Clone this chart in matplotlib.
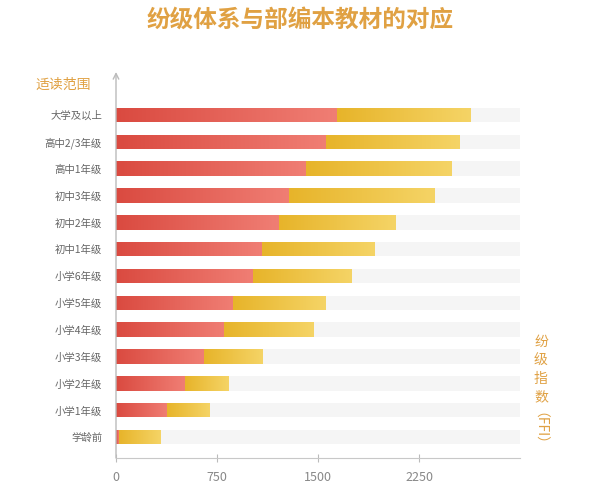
import matplotlib
matplotlib.use("Agg")
import matplotlib.pyplot as plt
import numpy as np
from matplotlib.colors import LinearSegmentedColormap

plt.rcParams['font.family'] = ['Noto Sans CJK SC', 'DejaVu Sans']

categories = ["学龄前", "小学1年级", "小学2年级", "小学3年级", "小学4年级", "小学5年级",
              "小学6年级", "初中1年级", "初中2年级", "初中3年级", "高中1年级", "高中2/3年级", "大学及以上"]
red_end = [22, 379, 512, 653, 802, 869, 1017, 1084, 1210, 1285, 1411, 1559, 1641]
yellow_end = [327, 691, 832, 1084, 1463, 1559, 1745, 1923, 2072, 2369, 2488, 2554, 2636]
full_scale = 3000
xticks = [0, 750, 1500, 2250]

title_color = "#e0a143"
red_cmap = LinearSegmentedColormap.from_list("r", ["#da4a40", "#f07e74"])
yel_cmap = LinearSegmentedColormap.from_list("y", ["#e7b42a", "#f5d466"])

fig = plt.figure(figsize=(6.0, 4.98), dpi=100)
ax = fig.add_axes([116/600, 40/498, 404/600, 386/498])

h = 0.54
y = np.arange(len(categories))
grad = np.linspace(0, 1, 256).reshape(1, -1)

ax.barh(y, [full_scale]*len(y), height=h, color="#f5f5f5", zorder=1)
for i, (r, yy) in enumerate(zip(red_end, yellow_end)):
    b1 = ax.barh(i, r, height=h, left=0, color="#e45a50", zorder=2)[0]
    im = ax.imshow(grad, cmap=red_cmap, aspect='auto', extent=(0, r, i - h/2, i + h/2), zorder=3)
    im.set_clip_path(b1)
    b2 = ax.barh(i, yy - r, height=h, left=r, color="#efc445", zorder=2)[0]
    im2 = ax.imshow(grad, cmap=yel_cmap, aspect='auto', extent=(r, yy, i - h/2, i + h/2), zorder=3)
    im2.set_clip_path(b2)

ax.set_xlim(0, full_scale)
ax.set_ylim(-0.78, 13.6)

ax.set_yticks(y)
ax.set_yticklabels(categories, fontsize=7.5, color="#666666")
ax.tick_params(axis='y', length=0, pad=10)
ax.set_xticks(xticks)
ax.set_xticklabels([str(t) for t in xticks], fontsize=9, color="#888888")
ax.tick_params(axis='x', direction='inout', length=6, color="#bbbbbb", pad=6)

for s in ['top', 'right', 'left']:
    ax.spines[s].set_visible(False)
ax.spines['bottom'].set_color("#c8c8c8")
ax.annotate('', xy=(0, 1.0), xytext=(0, 0), xycoords='axes fraction',
            arrowprops=dict(arrowstyle='->', color="#bbbbbb", lw=1, shrinkA=0, shrinkB=0))

fig.text(0.5, 1 - 20/498, "纷级体系与部编本教材的对应", ha='center', va='center',
         fontsize=17, fontweight='bold', color=title_color)
fig.text(63/600, 1 - 85/498, "适读范围", ha='center', va='center', fontsize=10, color=title_color)

for k, ch in enumerate("纷级指数"):
    fig.text(541/600, 1 - (342 + k*18.5)/498, ch, ha='center', va='center', fontsize=10,
             color=title_color)
fig.text(532/600, 1 - 412/498, "（FFI）", ha='center', va='top', fontsize=10,
         color=title_color, rotation=-90)

fig.savefig("out.png", dpi=100, facecolor="white")
